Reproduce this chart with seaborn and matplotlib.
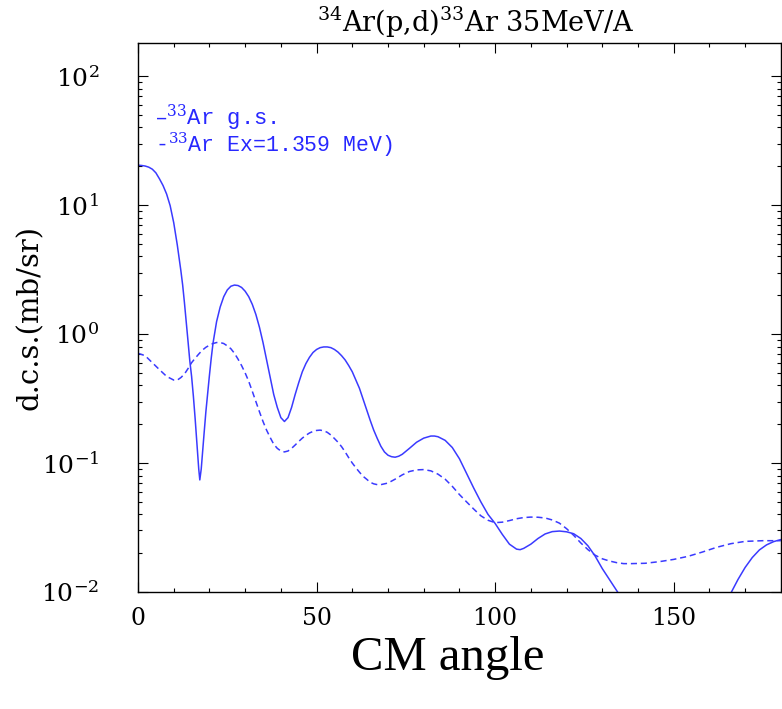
import pandas as pd
import matplotlib
matplotlib.use('Agg')
import matplotlib.pyplot as plt
import seaborn as sns
from matplotlib.ticker import MultipleLocator, LogLocator, FixedLocator, FixedFormatter

# 33Ar ground state (solid curve)
angle_gs = [0, 1, 2, 3, 4, 5, 6, 7, 8, 9, 10, 11, 12, 12.5, 13, 13.5, 14, 14.5, 15, 15.5, 16,
            16.5, 17, 17.3, 17.7, 18, 18.5, 19, 19.5, 20, 20.5, 21, 22, 23, 24, 25, 26, 27,
            28, 29, 30, 31, 32, 33, 34, 35, 36, 37, 38, 39, 40, 41, 42, 43, 44, 45, 46, 47,
            48, 49, 50, 51, 52, 53, 54, 55, 56, 57, 58, 59, 60, 61, 62, 63, 64, 65, 66, 67,
            68, 69, 70, 71, 72, 73, 74, 76, 78, 80, 82, 83, 84, 86, 88, 90, 92, 94, 96, 98,
            100, 102, 104, 106, 107, 108, 110, 112, 114, 116, 118, 120, 122, 124, 126, 128,
            130, 132, 134.5, 137, 140, 150, 160, 163, 166, 168, 170, 172, 174, 176, 178, 180]
dcs_gs = [20.4, 20.3, 20.1, 19.7, 19.0, 17.8, 16.0, 14.2, 12.2, 9.9, 7.3, 4.9, 3.1, 2.4,
          1.75, 1.25, 0.88, 0.62, 0.47, 0.33, 0.22, 0.14, 0.09, 0.074, 0.09, 0.115, 0.17,
          0.25, 0.35, 0.48, 0.65, 0.85, 1.25, 1.62, 1.95, 2.2, 2.35, 2.4, 2.38, 2.3, 2.15,
          1.95, 1.7, 1.42, 1.13, 0.86, 0.63, 0.46, 0.34, 0.27, 0.225, 0.21, 0.225, 0.27,
          0.34, 0.42, 0.51, 0.59, 0.66, 0.72, 0.76, 0.785, 0.795, 0.795, 0.785, 0.76,
          0.725, 0.68, 0.63, 0.57, 0.51, 0.44, 0.38, 0.315, 0.26, 0.215, 0.18, 0.155,
          0.135, 0.122, 0.115, 0.112, 0.111, 0.113, 0.117, 0.13, 0.145, 0.156, 0.162,
          0.162, 0.16, 0.15, 0.132, 0.108, 0.083, 0.064, 0.05, 0.04, 0.034, 0.028, 0.0235,
          0.0215, 0.0213, 0.0218, 0.0235, 0.026, 0.0282, 0.0294, 0.0297, 0.0293, 0.0283,
          0.026, 0.0228, 0.019, 0.0152, 0.0125, 0.0098, 0.0075, 0.005, 0.002, 0.0045,
          0.0068, 0.0098, 0.0125, 0.0155, 0.0185, 0.0212, 0.0232, 0.0246, 0.0255]

# 33Ar Ex=1.359 MeV (dashed curve)
angle_ex = [0, 2, 4, 6, 8, 10, 11, 12, 13, 14, 15, 16, 17, 18, 19, 20, 21, 22, 23, 24, 25,
            26, 27, 28, 29, 30, 31, 32, 33, 34, 35, 36, 37, 38, 39, 40, 41, 42, 43, 44, 45,
            46, 47, 48, 49, 50, 51, 52, 53, 54, 55, 56, 57, 58, 59, 60, 61, 62, 63, 64, 65,
            66, 67, 68, 69, 70, 72, 74, 76, 78, 80, 82, 84, 86, 88, 90, 92, 94, 96, 98, 100,
            102, 104, 106, 108, 110, 112, 114, 116, 118, 120, 122, 124, 126, 128, 130, 132,
            134, 136, 138, 142, 146, 150, 154, 158, 162, 166, 170, 175, 180]
dcs_ex = [0.71, 0.68, 0.6, 0.53, 0.47, 0.44, 0.44, 0.46, 0.49, 0.54, 0.6, 0.65, 0.7, 0.75,
          0.79, 0.82, 0.845, 0.86, 0.86, 0.845, 0.81, 0.77, 0.71, 0.64, 0.57, 0.5, 0.43,
          0.36, 0.3, 0.25, 0.21, 0.18, 0.158, 0.14, 0.13, 0.124, 0.122, 0.124, 0.13, 0.138,
          0.147, 0.156, 0.164, 0.171, 0.176, 0.179, 0.18, 0.178, 0.173, 0.165, 0.155,
          0.145, 0.134, 0.122, 0.11, 0.1, 0.092, 0.085, 0.079, 0.075, 0.071, 0.069, 0.068,
          0.068, 0.069, 0.07, 0.075, 0.081, 0.086, 0.0885, 0.089, 0.087, 0.082, 0.075,
          0.066, 0.057, 0.05, 0.044, 0.039, 0.036, 0.0345, 0.0348, 0.0358, 0.037, 0.0378,
          0.0381, 0.038, 0.0375, 0.0362, 0.0342, 0.031, 0.0275, 0.024, 0.0213, 0.0193,
          0.0181, 0.0174, 0.0169, 0.0166, 0.0166, 0.0167, 0.0172, 0.0179, 0.0189, 0.0204,
          0.0222, 0.0237, 0.0247, 0.025, 0.025]

yticks = [1e-2, 1e-1, 1e0, 1e1, 1e2]
ytick_labels = [r'$10^{-2}$', r'$10^{-1}$', r'$10^{0}$', r'$10^{1}$', r'$10^{2}$']
xticks = [0, 50, 100, 150]

sns.set_style('ticks')
plt.rcParams['font.family'] = ['DejaVu Serif']
plt.rcParams['mathtext.fontset'] = 'dejavuserif'
plt.rcParams['text.color'] = 'black'
plt.rcParams['axes.labelcolor'] = 'black'
plt.rcParams['xtick.color'] = 'black'
plt.rcParams['ytick.color'] = 'black'
plt.rcParams['axes.edgecolor'] = 'black'

df_gs = pd.DataFrame({'angle': angle_gs, 'dcs': dcs_gs})
df_ex = pd.DataFrame({'angle': angle_ex, 'dcs': dcs_ex})

fig = plt.figure(figsize=(7.82, 7.09), dpi=100)
ax = fig.add_axes([0.1765, 0.165, 0.822, 0.774])

line_color = '#3a3aff'
sns.lineplot(data=df_gs, x='angle', y='dcs', ax=ax, color=line_color, lw=1.1)
sns.lineplot(data=df_ex, x='angle', y='dcs', ax=ax, color=line_color, lw=1.1,
             linestyle=(0, (4, 2.5)))

ax.set_yscale('log')
ax.set_xlim(0, 180)
ax.set_ylim(0.01, 180)

ax.yaxis.set_major_locator(FixedLocator(yticks))
ax.yaxis.set_major_formatter(FixedFormatter(ytick_labels))
ax.yaxis.set_minor_locator(LogLocator(base=10, subs=range(2, 10)))
ax.set_xticks(xticks)
ax.xaxis.set_minor_locator(MultipleLocator(10))

ax.tick_params(which='both', direction='in', top=True, right=True, width=0.8)
ax.tick_params(which='major', length=7)
ax.tick_params(which='minor', length=3)
ax.tick_params(axis='y', which='major', labelsize=18, pad=28)
ax.tick_params(axis='x', which='major', labelsize=17, pad=11)
for s in ax.spines.values():
    s.set_linewidth(1.0)

ax.set_title(r'$^{34}$Ar(p,d)$^{33}$Ar 35MeV/A', fontsize=19.5, x=0.525, pad=8)
ax.set_xlabel('')
ax.set_ylabel('d.c.s.(mb/sr)', fontsize=21)
ax.yaxis.set_label_coords(-0.147, 0.5)

leg_color = '#2828ff'
ax.text(0.026, 0.851, '\u2013' + r'$^{33}$' + 'Ar g.s.', transform=ax.transAxes,
        color=leg_color, fontsize=16, family='Liberation Mono', va='baseline')
ax.text(0.026, 0.801, '-' + r'$^{33}$' + 'Ar Ex=1.359 MeV)', transform=ax.transAxes,
        color=leg_color, fontsize=15.5, family='Liberation Mono', va='baseline')

fig.text(448 / 782, 1 - 670 / 709, 'CM angle', family='Liberation Serif', fontsize=35,
         ha='center', va='baseline')

fig.savefig('out.png', dpi=100)
